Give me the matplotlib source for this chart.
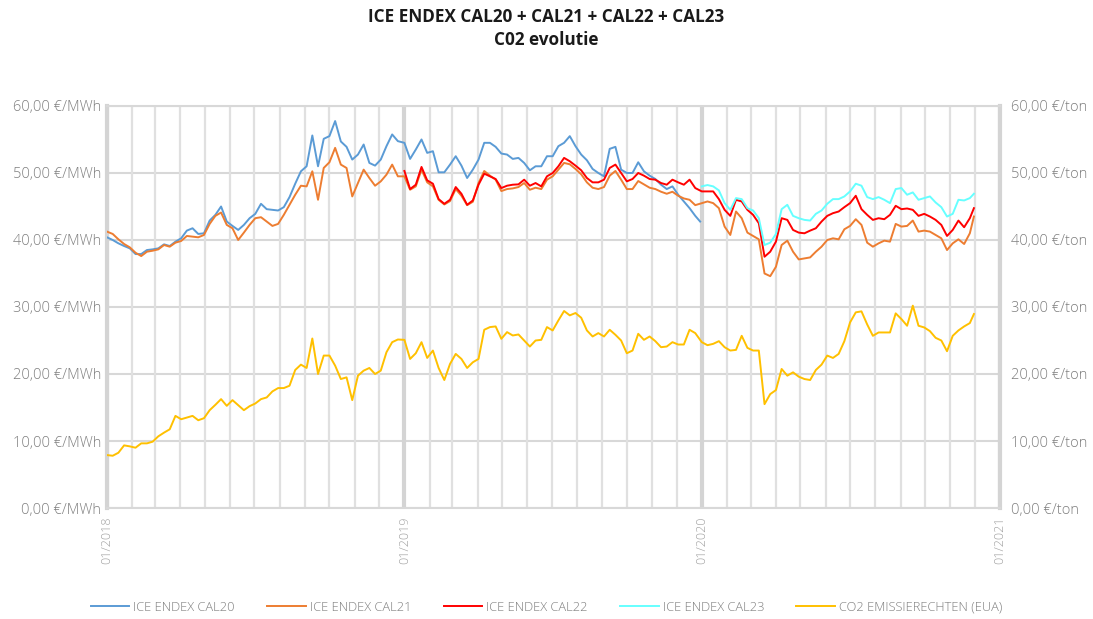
"""ICE ENDEX CAL20-CAL23 forward prices together with the EUA CO2 price."""
import matplotlib
matplotlib.use("Agg")
import matplotlib.pyplot as plt
import matplotlib.dates as mdates
from matplotlib.ticker import FuncFormatter, MultipleLocator
import pandas as pd

plt.rcParams["font.family"] = ["Open Sans", "DejaVu Sans"]

# weekly samples
WEEKS_2018 = pd.date_range("2018-01-01", periods=52, freq="7D")
WEEKS_2019 = pd.date_range("2019-01-01", periods=52, freq="7D")
WEEKS_2020 = pd.date_range("2020-01-01", periods=48, freq="7D")
LAST_2019 = pd.DatetimeIndex(["2019-12-30"])
LAST_2020 = pd.DatetimeIndex(["2020-11-30"])

CAL20_2018 = [40.4, 40.0, 39.5, 39.1, 38.75, 37.9, 37.9, 38.5, 38.6, 38.75,
              39.35, 39.1, 39.75, 40.25, 41.4, 41.75, 40.9, 41.0, 42.9, 43.75,
              45.0, 42.75, 42.1, 41.5, 42.25, 43.25, 43.9, 45.4, 44.6, 44.5,
              44.4, 44.9, 46.4, 48.4, 50.25, 51.0, 55.6, 51.0, 55.1, 55.5,
              57.75, 54.7, 53.9, 52.0, 52.75, 54.25, 51.5, 51.1, 52.0, 54.0,
              55.75, 54.75]
CAL20_2019 = [54.5, 52.1, 53.5, 55.0, 53.0, 53.25, 50.1, 50.1, 51.25, 52.5,
              51.1, 49.25, 50.5, 52.0, 54.5, 54.5, 53.9, 52.9, 52.75, 52.1,
              52.25, 51.5, 50.4, 51.0, 51.0, 52.5, 52.5, 54.0, 54.5, 55.5,
              54.0, 52.75, 51.9, 50.6, 50.0, 49.5, 53.6, 53.9, 50.5, 50.0,
              50.0, 51.6, 50.25, 49.6, 49.1, 48.25, 47.6, 48.0, 46.75, 45.75,
              44.75, 43.6, 42.75]

CAL21_2018 = [41.25, 40.9, 40.1, 39.4, 38.9, 38.1, 37.6, 38.25, 38.4, 38.6,
              39.25, 39.0, 39.6, 39.85, 40.6, 40.5, 40.4, 40.75, 42.4, 43.6,
              44.1, 42.25, 41.75, 40.0, 41.1, 42.25, 43.25, 43.4, 42.75, 42.1,
              42.4, 43.75, 45.25, 46.75, 48.1, 48.0, 50.25, 46.0, 50.75, 51.6,
              53.75, 51.25, 50.75, 46.5, 48.5, 50.5, 49.25, 48.1, 48.75, 49.75,
              51.25, 49.5]
CAL21_2019 = [49.5, 47.5, 48.0, 50.5, 48.6, 48.0, 46.0, 45.3, 45.8, 47.6,
              46.6, 45.2, 45.7, 48.5, 50.3, 49.6, 49.0, 47.3, 47.6, 47.7,
              47.9, 48.5, 47.5, 47.8, 47.6, 49.0, 49.5, 50.5, 51.5, 51.3,
              50.6, 49.8, 48.6, 47.8, 47.6, 47.9, 49.6, 50.3, 49.0, 47.6,
              47.6, 48.8, 48.3, 47.8, 47.6, 47.2, 46.9, 47.2, 46.6, 46.2,
              46.0, 45.2]
CAL21_2020 = [45.5, 45.75, 45.5, 44.75, 42.0, 40.75, 44.25, 43.25, 41.1, 40.6,
              40.1, 35.0, 34.6, 36.0, 39.25, 39.9, 38.25, 37.1, 37.25, 37.4,
              38.25, 39.0, 40.0, 40.25, 40.1, 41.6, 42.1, 43.1, 42.25, 39.6,
              39.0, 39.5, 39.9, 39.75, 42.4, 42.0, 42.1, 42.9, 41.25, 41.4,
              41.25, 40.75, 40.25, 38.5, 39.5, 40.1, 39.4, 41.0, 43.5]

CAL22_2019 = [50.3, 47.6, 48.25, 50.9, 48.9, 48.4, 46.1, 45.4, 46.0, 47.9,
              46.9, 45.25, 45.9, 48.25, 49.9, 49.5, 49.1, 47.75, 48.1, 48.25,
              48.3, 49.0, 48.1, 48.5, 48.0, 49.5, 50.0, 51.0, 52.25, 51.75,
              51.1, 50.4, 49.25, 48.6, 48.6, 49.0, 50.75, 51.25, 50.0, 48.75,
              49.1, 50.0, 49.6, 49.1, 49.0, 48.5, 48.25, 49.0, 48.6, 48.25,
              49.0, 47.75]
CAL22_2020 = [47.25, 47.25, 47.25, 46.1, 44.5, 43.6, 46.0, 45.75, 44.5, 43.75,
              42.5, 37.5, 38.25, 39.75, 43.25, 43.0, 41.5, 41.1, 41.0, 41.4,
              41.75, 42.75, 43.6, 44.0, 44.25, 44.9, 45.5, 46.6, 44.6, 43.75,
              43.0, 43.25, 43.1, 43.75, 45.1, 44.6, 44.7, 44.5, 43.6, 43.9,
              43.5, 43.0, 42.25, 40.6, 41.5, 42.9, 41.9, 43.25, 44.75]

CAL23_2020 = [48.0, 48.2, 48.0, 47.4, 45.5, 44.5, 46.25, 46.1, 44.75, 44.4,
              43.25, 39.25, 39.6, 40.9, 44.6, 45.25, 43.6, 43.25, 43.0, 42.9,
              43.9, 44.4, 45.4, 46.1, 46.1, 46.5, 47.25, 48.4, 48.1, 46.4,
              46.1, 46.4, 46.0, 45.5, 47.6, 47.75, 46.75, 47.1, 46.0, 46.25,
              46.5, 45.6, 44.9, 43.5, 43.9, 46.0, 45.9, 46.25, 46.9]

EUA_2018 = [7.9, 7.8, 8.25, 9.35, 9.2, 9.0, 9.65, 9.65, 9.9, 10.7,
            11.25, 11.75, 13.75, 13.25, 13.5, 13.75, 13.1, 13.4, 14.6, 15.4,
            16.25, 15.25, 16.1, 15.35, 14.6, 15.2, 15.6, 16.25, 16.5, 17.4,
            17.9, 17.9, 18.25, 20.6, 21.4, 20.9, 25.3, 20.0, 22.75, 22.75,
            21.25, 19.25, 19.5, 16.1, 19.75, 20.5, 20.9, 20.0, 20.5, 23.25,
            24.75, 25.15]
EUA_2019 = [25.1, 22.25, 23.1, 24.75, 22.4, 23.5, 20.9, 19.1, 21.5, 23.0,
            22.25, 20.9, 21.75, 22.25, 26.6, 27.0, 27.1, 25.25, 26.25, 25.75,
            25.9, 25.0, 24.1, 25.0, 25.1, 27.0, 26.5, 28.0, 29.4, 28.75,
            29.1, 28.4, 26.5, 25.6, 26.1, 25.6, 26.6, 25.85, 25.0, 23.1,
            23.5, 26.0, 25.1, 25.6, 24.9, 24.0, 24.1, 24.75, 24.4, 24.4,
            26.6, 26.1]
EUA_2020 = [24.75, 24.3, 24.5, 24.9, 24.0, 23.5, 23.6, 25.7, 23.9, 23.5,
            23.5, 15.5, 17.0, 17.6, 20.75, 19.75, 20.25, 19.6, 19.25, 19.1,
            20.6, 21.4, 22.75, 22.4, 23.0, 24.9, 27.7, 29.2, 29.35, 27.4,
            25.7, 26.2, 26.2, 26.2, 29.05, 28.2, 27.2, 30.2, 27.2, 26.95,
            26.4, 25.4, 25.0, 23.4, 25.7, 26.5, 27.1, 27.6, 28.95]

SERIES = [
    ("ICE ENDEX CAL20", "#5B9BD5",
     WEEKS_2018.append(WEEKS_2019).append(LAST_2019), CAL20_2018 + CAL20_2019),
    ("ICE ENDEX CAL21", "#ED7D31",
     WEEKS_2018.append(WEEKS_2019).append(WEEKS_2020).append(LAST_2020),
     CAL21_2018 + CAL21_2019 + CAL21_2020),
    ("ICE ENDEX CAL22", "#FF0000",
     WEEKS_2019.append(WEEKS_2020).append(LAST_2020), CAL22_2019 + CAL22_2020),
    ("ICE ENDEX CAL23", "#66FFFF", WEEKS_2020.append(LAST_2020), CAL23_2020),
    ("CO2 EMISSIERECHTEN (EUA)", "#FFC000",
     WEEKS_2018.append(WEEKS_2019).append(WEEKS_2020).append(LAST_2020),
     EUA_2018 + EUA_2019 + EUA_2020),
]

START, END = pd.Timestamp("2018-01-01"), pd.Timestamp("2021-01-01")
LABEL_COLOR = "#7f7f7f"


def euro(unit):
    return FuncFormatter(lambda v, _: f"{v:.2f}".replace(".", ",") + f" €/{unit}")


fig = plt.figure(figsize=(10.93, 6.19), dpi=100)
ax = fig.add_axes([0.0979, 0.1793, 0.817, 0.6495])

# monthly vertical grid (light) and yearly grid (heavier)
for month in pd.date_range(START, END, freq="MS"):
    if month.month == 1:
        ax.axvline(month, color="#d4d4d4", lw=3.0, zorder=1.2)
    else:
        ax.axvline(month, color="#e0e0e0", lw=1.6, zorder=1.1)

for name, color, dates, values in SERIES:
    ax.plot(dates, values, color=color, lw=1.4, label=name, zorder=3)

ax.set_xlim(START, END)
ax.set_ylim(0, 60)
ax.yaxis.set_major_locator(MultipleLocator(10))
ax.yaxis.set_major_formatter(euro("MWh"))
ax.xaxis.set_major_locator(mdates.YearLocator())
ax.xaxis.set_major_formatter(mdates.DateFormatter("%m/%Y"))

ax.grid(True, which="major", axis="y", color="#d8d8d8", lw=1.5)
ax.set_axisbelow(True)

for side in ("left", "right"):
    ax.spines[side].set_color("#d4d4d4")
    ax.spines[side].set_linewidth(3.0)
for side in ("top", "bottom"):
    ax.spines[side].set_color("#d8d8d8")
    ax.spines[side].set_linewidth(1.5)

ax.tick_params(which="both", length=0)
ax.tick_params(axis="y", labelsize=10.5, labelcolor=LABEL_COLOR, pad=4)
ax.tick_params(axis="x", labelsize=9, labelcolor="#a0a0a0", pad=6)
for lbl in ax.get_xticklabels() + ax.get_yticklabels():
    lbl.set_fontweight("light")
for lbl in ax.get_xticklabels():
    lbl.set_rotation(90)
    lbl.set_va("top")

ax2 = ax.twinx()
ax2.set_ylim(0, 60)
ax2.yaxis.set_major_locator(MultipleLocator(10))
ax2.yaxis.set_major_formatter(euro("ton"))
ax2.tick_params(length=0, labelsize=10.5, labelcolor=LABEL_COLOR, pad=8)
for lbl in ax2.get_yticklabels():
    lbl.set_fontweight("light")
for spine in ax2.spines.values():
    spine.set_visible(False)

fig.text(0.5, 0.987, "ICE ENDEX CAL20 + CAL21 + CAL22 + CAL23\nC02 evolutie",
         ha="center", va="top", fontsize=12.3, fontweight="bold",
         linespacing=1.35, color="#1a1a1a")

fig.legend(loc="center", bbox_to_anchor=(0.5, 0.019), ncol=5, frameon=False,
           prop={"size": 9.3, "weight": "light"}, labelcolor=LABEL_COLOR,
           handlelength=3.0, handletextpad=0.3, columnspacing=2.5)

fig.savefig("out.png", dpi=100)
plt.close(fig)
